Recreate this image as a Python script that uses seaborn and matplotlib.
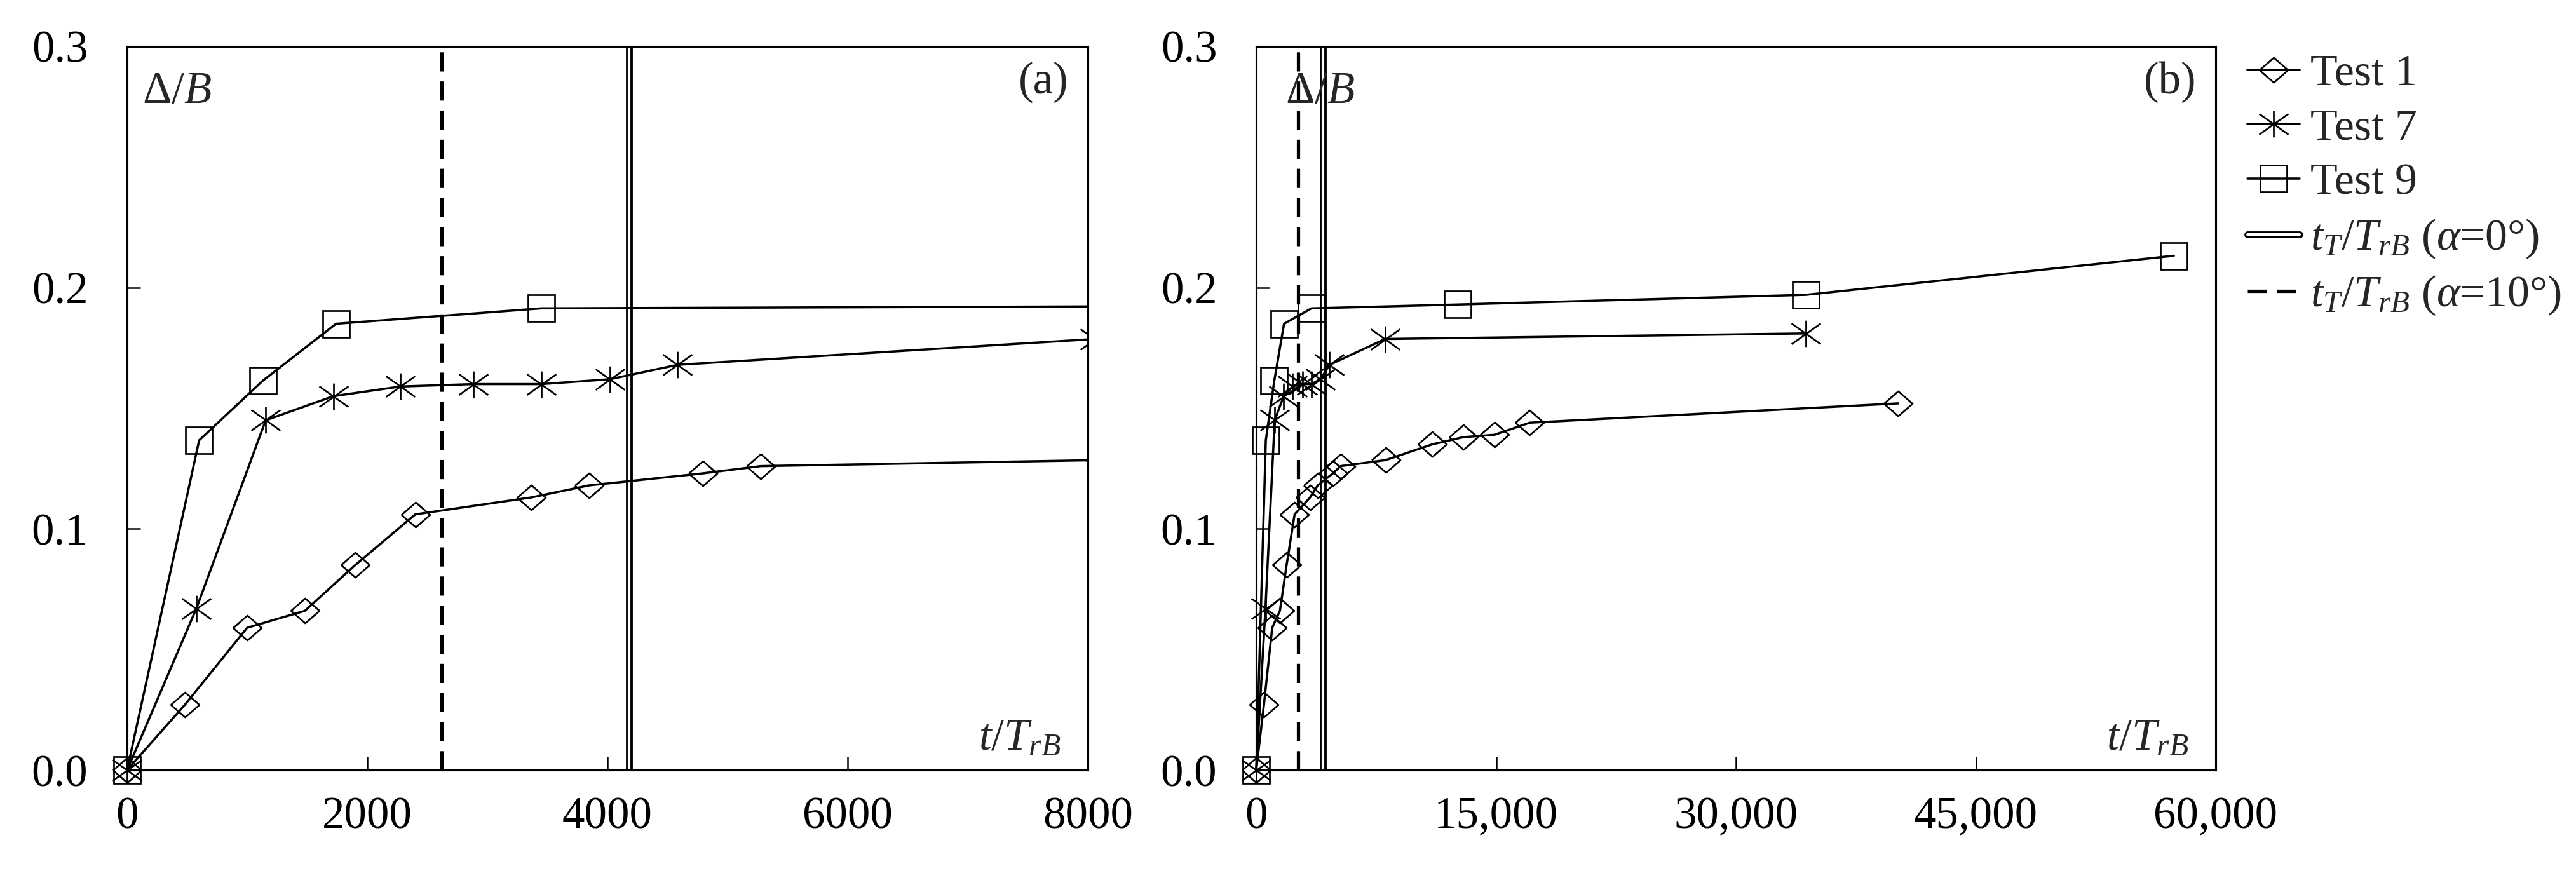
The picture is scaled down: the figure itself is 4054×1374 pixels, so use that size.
import numpy as np
import pandas as pd
import seaborn as sns
import matplotlib
matplotlib.use("Agg")
import matplotlib.pyplot as plt
from matplotlib.lines import Line2D
from matplotlib.patches import Rectangle
from matplotlib.path import Path
from matplotlib.ticker import FuncFormatter, FixedLocator
from matplotlib.legend_handler import HandlerTuple

# ---------------- data ----------------
t_test1 = [0, 480, 1000, 1480, 1900, 2400, 3365, 3846, 4795, 5276, 8100, 11000, 12950, 14900, 17100, 40150]
d_test1 = [0, 0.027, 0.059, 0.066, 0.085, 0.106, 0.113, 0.118, 0.123, 0.126, 0.1285, 0.135, 0.138, 0.139, 0.144, 0.152]

t_test7 = [0, 577, 1154, 1718, 2276, 2885, 3449, 4019, 4583, 8060, 34370]
d_test7 = [0, 0.067, 0.145, 0.155, 0.159, 0.160, 0.160, 0.162, 0.168, 0.1787, 0.181]

t_test9 = [0, 600, 1130, 1740, 3450, 12600, 34370, 57380]
d_test9 = [0, 0.1367, 0.1614, 0.185, 0.1914, 0.193, 0.197, 0.2132]

t_alpha0 = 4180    # t_T/T_rB (alpha = 0 deg)
t_alpha10 = 2620   # t_T/T_rB (alpha = 10 deg)

series_names = ["Test 1", "Test 7", "Test 9"]
panel_labels = ["(a)", "(b)"]
xlims = [8000, 60000]
xticks_a = [0, 2000, 4000, 6000, 8000]
xticks_b = [0, 15000, 30000, 45000, 60000]
yticks = [0.0, 0.1, 0.2, 0.3]

df = pd.concat([
    pd.DataFrame({"t": t_test1, "d": d_test1, "test": "Test 1"}),
    pd.DataFrame({"t": t_test7, "d": d_test7, "test": "Test 7"}),
    pd.DataFrame({"t": t_test9, "d": d_test9, "test": "Test 9"}),
])

# ---------------- style ----------------
sns.set_style("ticks")
plt.rcParams["font.family"] = ["Liberation Serif", "DejaVu Serif"]
plt.rcParams["mathtext.fontset"] = "custom"
plt.rcParams["mathtext.rm"] = "Liberation Serif"
plt.rcParams["mathtext.it"] = "Liberation Serif:italic"
plt.rcParams["mathtext.bf"] = "Liberation Serif:bold"

FS = 17
FS_LEG = 16.8
diamond = [(-1.15, 0), (0, 1), (1.15, 0), (0, -1), (-1.15, 0)]
ast_path = Path(
    [(0, 1), (0, -1), (1.1, 0.78), (-1.1, -0.78), (1.1, -0.78), (-1.1, 0.78)],
    [Path.MOVETO, Path.LINETO, Path.MOVETO, Path.LINETO, Path.MOVETO, Path.LINETO],
)
marker_styles = {
    "Test 1": dict(marker=diamond, ms=10.8),
    "Test 7": dict(marker=ast_path, ms=11.0),
    "Test 9": dict(marker="s", ms=10.3),
}
DASH = (0, (5.8, 3.0))

W, H = 4054, 1374
fig = plt.figure(figsize=(W / 300, H / 300), dpi=300)
ax_a = fig.add_axes([200 / W, 1 - 1212 / H, 1512 / W, 1139 / H])
ax_b = fig.add_axes([1977 / W, 1 - 1212 / H, 1510 / W, 1139 / H])

handles = []
for k, (ax, xmax) in enumerate(zip([ax_a, ax_b], xlims)):
    # threshold lines
    ax.axvline(t_alpha10, color="black", lw=1.25, ls=DASH, zorder=1)
    ax.axvline(t_alpha0, color="black", lw=2.6, zorder=1)
    ax.axvline(t_alpha0, color="white", lw=1.0, zorder=1.1)

    for name in series_names:
        sub = df[df["test"] == name]
        n_before = len(ax.lines)
        sns.lineplot(data=sub, x="t", y="d", ax=ax, color="black", lw=0.85,
                     mfc="none", mec="black", mew=0.65, sort=True,
                     estimator=None, legend=False, zorder=3,
                     **marker_styles[name])
        clip = Rectangle((-0.06, -0.06), 1.06, 1.06, transform=ax.transAxes,
                         fill=False, visible=False)
        ax.add_patch(clip)
        for ln in ax.lines[n_before:]:
            ln.set_clip_path(clip)
            if k == 1:
                handles.append(ln)

    ax.set_xlim(0, xmax)
    ax.set_ylim(0, 0.3)
    ax.set_xlabel("")
    ax.set_ylabel("")
    ax.yaxis.set_major_locator(FixedLocator(yticks))
    ax.yaxis.set_major_formatter(FuncFormatter(lambda v, p: f"{v:.1f}"))
    if k == 0:
        ax.xaxis.set_major_locator(FixedLocator(xticks_a))
        ax.xaxis.set_major_formatter(FuncFormatter(lambda v, p: f"{v:.0f}"))
    else:
        ax.xaxis.set_major_locator(FixedLocator(xticks_b))
        ax.xaxis.set_major_formatter(FuncFormatter(lambda v, p: f"{v:,.0f}"))
    ax.tick_params(axis="both", direction="in", length=5, width=0.6,
                   labelsize=FS, colors="black")
    ax.tick_params(axis="y", pad=14.8)
    ax.tick_params(axis="x", pad=10)
    for sp in ax.spines.values():
        sp.set_visible(True)
        sp.set_linewidth(0.75)
        sp.set_color("black")

    dx = 0.016 if k == 0 else 0.0305
    ax.text(dx, 0.922, r"$\Delta/B$", transform=ax.transAxes, fontsize=FS,
            ha="left", va="baseline", zorder=5)
    ax.text(0.98, 0.951, panel_labels[k], transform=ax.transAxes, fontsize=FS,
            ha="right", va="center", zorder=5)
    ax.text(0.972, 0.028, r"$t/T_{rB}$", transform=ax.transAxes, fontsize=FS,
            ha="right", va="baseline", zorder=5)

# legend
h_a0 = (Line2D([], [], color="black", lw=2.6), Line2D([], [], color="white", lw=1.0))
h_a10 = Line2D([], [], color="black", lw=1.25, ls=DASH)
leg_handles = handles + [h_a0, h_a10]
leg_labels = series_names + [r"$t_T/T_{rB}$ ($\alpha$=0°)", r"$t_T/T_{rB}$ ($\alpha$=10°)"]
fig.legend(leg_handles, leg_labels, loc="upper left",
           bbox_to_anchor=(3537 / W, 1 - 85 / H), frameon=False, fontsize=FS_LEG,
           handlelength=1.17, handletextpad=0.25, labelspacing=0.31,
           borderpad=0, borderaxespad=0, numpoints=1,
           handler_map={tuple: HandlerTuple(ndivide=1, pad=0)})

fig.savefig("out.png", dpi=300)
